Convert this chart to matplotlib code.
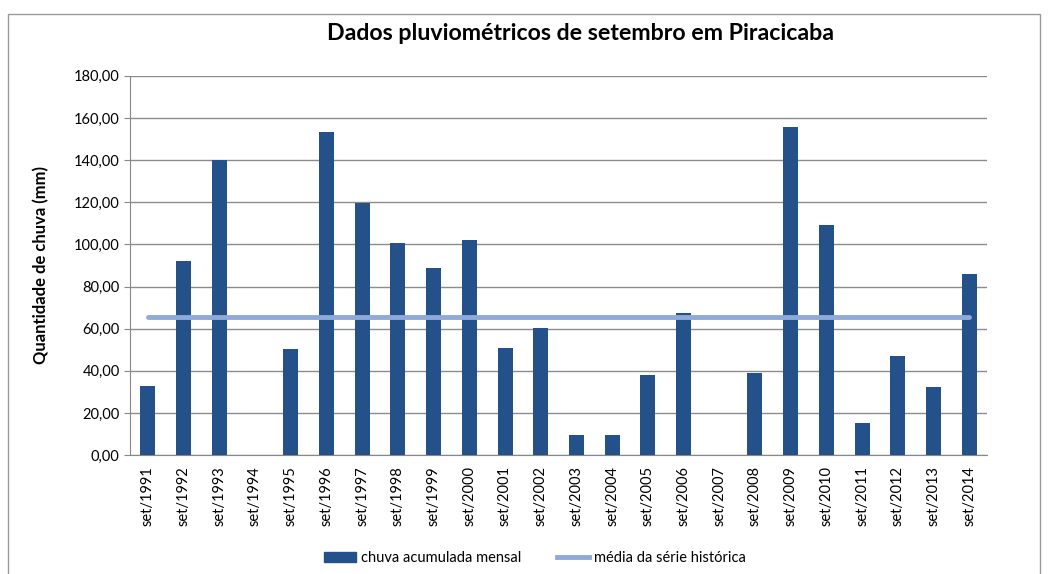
import matplotlib.pyplot as plt
import numpy as np
from matplotlib.patches import Rectangle
from matplotlib.lines import Line2D

plt.rcParams['font.family'] = ['Lato', 'DejaVu Sans']

anos = [str(a) for a in range(1991, 2015)]
categorias = [f"set/{a}" for a in anos]
chuva = [33.0, 92.0, 140.0, 0.0, 50.3, 153.5, 119.8, 100.7, 88.8, 102.0,
         50.8, 60.3, 9.5, 9.5, 38.0, 67.4, 0.0, 38.9, 155.8, 109.2,
         15.2, 47.0, 32.3, 86.0]
media = 65.5
yticks = list(range(0, 181, 20))

bar_color = "#25518a"
line_color = "#8eaad8"

fig = plt.figure(figsize=(10.49, 5.74), dpi=100)
ax = fig.add_axes([0.124, 0.207, 0.817, 0.661])

x = np.arange(len(categorias))
ax.bar(x, chuva, width=0.42, color=bar_color, zorder=3)
ax.plot([x[0], x[-1]], [media, media], color=line_color, linewidth=3.5,
        solid_capstyle="round", zorder=4)

ax.set_xlim(-0.5, len(categorias) - 0.5)
ax.set_ylim(0, 180)
ax.set_yticks(yticks)
ax.set_yticklabels([f"{v:.2f}".replace(".", ",") for v in yticks], fontsize=10.5)
ax.set_xticks(x)
ax.set_xticklabels(categorias, rotation=90, fontsize=10.5)
ax.tick_params(axis="x", length=0, pad=8)
ax.tick_params(axis="y", length=4, color="#888888")
ax.grid(axis="y", color="#8c8c8c", linewidth=1, zorder=0)
for s in ("top", "right"):
    ax.spines[s].set_visible(False)
for s in ("left", "bottom"):
    ax.spines[s].set_color("#888888")

ax.set_ylabel("Quantidade de chuva (mm)", fontsize=12, fontweight="bold", labelpad=18)
fig.text(0.553, 0.942, "Dados pluviométricos de setembro em Piracicaba",
         ha="center", va="center", fontsize=16.7, fontweight="bold")

handles = [Rectangle((0, 0), 1, 1, color=bar_color),
           Line2D([0], [0], color=line_color, linewidth=3.5)]
fig.legend(handles, ["chuva acumulada mensal", "média da série histórica"],
           loc="center", bbox_to_anchor=(0.51, 0.028), ncol=2, frameon=False,
           fontsize=10.5, handlelength=2.2, columnspacing=2.5, handletextpad=0.3)

fig.patches.append(Rectangle((0.008, -0.01), 0.983, 0.985, transform=fig.transFigure,
                             fill=False, edgecolor="#999999", linewidth=1))

fig.savefig("out.png", dpi=100)
